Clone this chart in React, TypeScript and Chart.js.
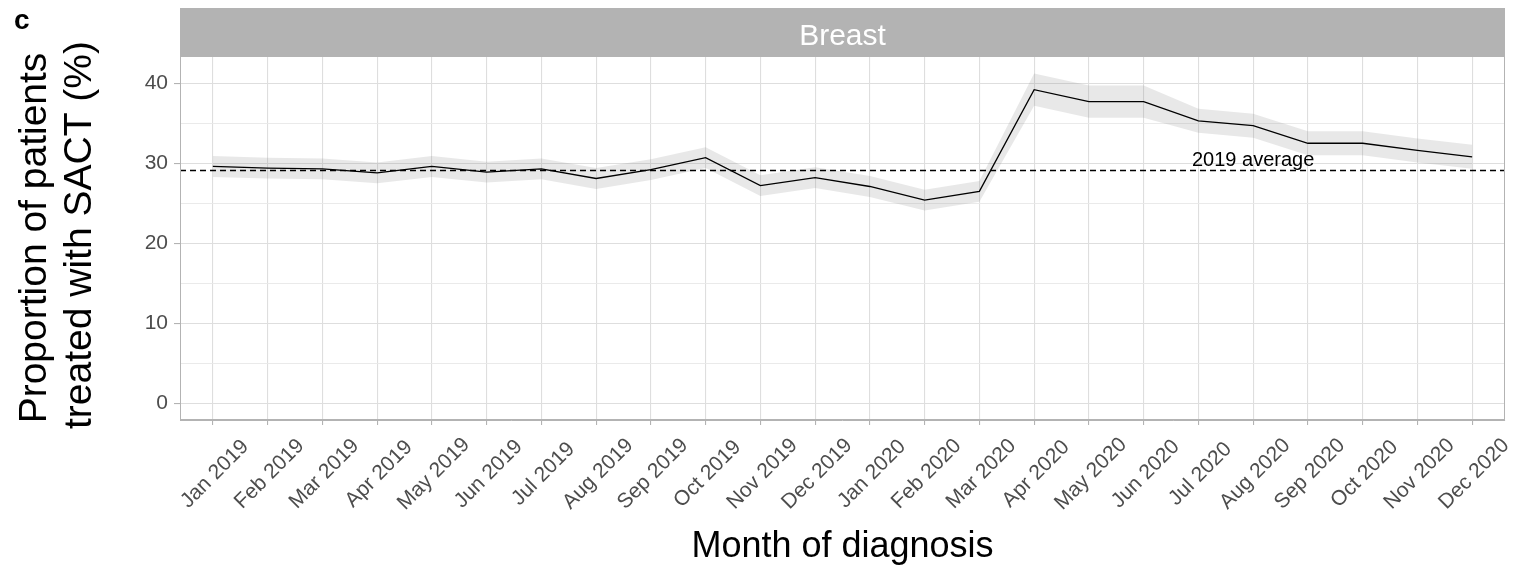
import { useEffect, useRef } from "react";
import { Chart, registerables } from "chart.js";

Chart.register(...registerables);

const months = [
  "Jan 2019", "Feb 2019", "Mar 2019", "Apr 2019", "May 2019", "Jun 2019",
  "Jul 2019", "Aug 2019", "Sep 2019", "Oct 2019", "Nov 2019", "Dec 2019",
  "Jan 2020", "Feb 2020", "Mar 2020", "Apr 2020", "May 2020", "Jun 2020",
  "Jul 2020", "Aug 2020", "Sep 2020", "Oct 2020", "Nov 2020", "Dec 2020",
];
const proportion = [
  29.6, 29.4, 29.3, 28.8, 29.6, 28.9, 29.3, 28.1, 29.2, 30.7, 27.2, 28.2,
  27.1, 25.4, 26.5, 39.2, 37.7, 37.7, 35.3, 34.7, 32.5, 32.5, 31.6, 30.8,
];
const upperCI = [
  30.9, 30.7, 30.6, 30.1, 30.9, 30.2, 30.6, 29.4, 30.5, 32.0, 28.5, 29.5,
  28.4, 26.7, 27.8, 41.2, 39.7, 39.7, 36.8, 36.2, 34.0, 34.0, 33.1, 32.3,
];
const lowerCI = [
  28.3, 28.1, 28.0, 27.5, 28.3, 27.6, 28.0, 26.8, 27.9, 29.4, 25.9, 26.9,
  25.8, 24.1, 25.2, 37.2, 35.7, 35.7, 33.8, 33.2, 31.0, 31.0, 30.1, 29.3,
];
const average2019 = 29.1;
const avgLabel = "2019 average";
const avgLabelMonth = "Aug 2020";
const yTicks = [0, 5, 10, 15, 20, 25, 30, 35, 40];
const panelTitle = "Breast";
const panelTag = "c";
const xTitle = "Month of diagnosis";
const yTitleLines = ["Proportion of patients", "treated with SACT (%)"];

const FONT = "'Liberation Sans', Arial, sans-serif";
const W = 1515;
const H = 568;

export default function App() {
  const ref = useRef<HTMLCanvasElement | null>(null);

  useEffect(() => {
    const canvas = ref.current;
    if (!canvas) return;
    const xMin = -0.6;
    const xMax = months.length - 1 + 0.6;
    const pts = (arr: number[]) => arr.map((v, i) => ({ x: i, y: v }));

    const overlay = {
      id: "overlay",
      afterDraw(chart: any) {
        const { ctx, chartArea } = chart;
        const xs = chart.scales.x;
        const ys = chart.scales.y;
        ctx.save();
        // panel border
        ctx.strokeStyle = "#b3b3b3";
        ctx.lineWidth = 1;
        ctx.strokeRect(chartArea.left + 0.5, chartArea.top + 0.5, chartArea.right - chartArea.left - 1, chartArea.bottom - chartArea.top - 1);
        // strip
        ctx.fillStyle = "#b3b3b3";
        ctx.fillRect(chartArea.left, 8, chartArea.right - chartArea.left, chartArea.top - 8);
        ctx.fillStyle = "#ffffff";
        ctx.font = `30px ${FONT}`;
        ctx.textAlign = "center";
        ctx.textBaseline = "alphabetic";
        ctx.fillText(panelTitle, (chartArea.left + chartArea.right) / 2, 44.5);
        // tag
        ctx.fillStyle = "#000000";
        ctx.font = `bold 28px ${FONT}`;
        ctx.textAlign = "left";
        ctx.textBaseline = "alphabetic";
        ctx.fillText(panelTag, 14, 29);
        // avg label
        ctx.font = `20px ${FONT}`;
        ctx.textAlign = "center";
        ctx.fillText(avgLabel, xs.getPixelForValue(months.indexOf(avgLabelMonth)), ys.getPixelForValue(average2019) - 4);
        // x tick labels
        ctx.fillStyle = "#4d4d4d";
        ctx.font = `21px ${FONT}`;
        ctx.textAlign = "center";
        ctx.textBaseline = "middle";
        months.forEach((m, i) => {
          const px = xs.getPixelForValue(i) + 2;
          ctx.save();
          ctx.translate(px, 474);
          ctx.rotate(-Math.PI / 4);
          ctx.fillText(m, 0, 0);
          ctx.restore();
        });
        // x title
        ctx.fillStyle = "#000000";
        ctx.font = `36px ${FONT}`;
        ctx.textAlign = "center";
        ctx.textBaseline = "alphabetic";
        ctx.fillText(xTitle, (chartArea.left + chartArea.right) / 2, 557);
        // y title
        ctx.font = `39px ${FONT}`;
        const lineX = [46, 91];
        const lineY = [238, 235];
        yTitleLines.forEach((t, k) => {
          ctx.save();
          ctx.translate(lineX[k], lineY[k]);
          ctx.rotate(-Math.PI / 2);
          ctx.fillText(t, 0, 0);
          ctx.restore();
        });
        ctx.restore();
      },
    };

    const chart = new Chart(canvas, {
      type: "line",
      data: {
        datasets: [
          {
            data: pts(proportion),
            borderColor: "#000000",
            borderWidth: 1.3,
            pointRadius: 0,
            fill: false,
            order: 0,
          },
          {
            data: [{ x: xMin, y: average2019 }, { x: xMax, y: average2019 }],
            borderColor: "#000000",
            borderWidth: 1.3,
            borderDash: [6, 4],
            pointRadius: 0,
            fill: false,
            order: 1,
          },
          {
            data: pts(lowerCI),
            borderWidth: 0,
            borderColor: "rgba(0,0,0,0)",
            pointRadius: 0,
            fill: false,
            order: 3,
          },
          {
            data: pts(upperCI),
            borderWidth: 0,
            borderColor: "rgba(0,0,0,0)",
            backgroundColor: "rgba(128,128,128,0.18)",
            pointRadius: 0,
            fill: "-1",
            order: 2,
          },
        ],
      },
      options: {
        responsive: false,
        animation: false,
        devicePixelRatio: 1,
        layout: { padding: { left: 0, top: 56, right: 10, bottom: 0 } },
        plugins: { legend: { display: false }, tooltip: { enabled: false } },
        elements: { line: { tension: 0 } },
        scales: {
          x: {
            type: "linear",
            min: xMin,
            max: xMax,
            afterBuildTicks: (s: any) => {
              s.ticks = months.map((_, i) => ({ value: i }));
            },
            afterFit: (s: any) => {
              s.height = H - 420;
            },
            ticks: { display: false },
            grid: {
              color: "#dedede",
              lineWidth: 1.1,
              tickColor: "#b3b3b3",
              tickLength: 5,
            },
            border: { display: true, color: "#b3b3b3", width: 1 },
          },
          y: {
            type: "linear",
            min: -2.07,
            max: 43.4,
            afterBuildTicks: (s: any) => {
              s.ticks = yTicks.map((v) => ({ value: v }));
            },
            afterFit: (s: any) => {
              s.width = 180;
            },
            ticks: {
              color: "#4d4d4d",
              font: { family: FONT, size: 21 },
              padding: 6,
              callback: (v: any) => (Number(v) % 10 === 0 ? String(v) : ""),
            },
            grid: {
              color: (c: any) => (c.tick && c.tick.value % 10 === 0 ? "#dedede" : "#e8e8e8"),
              lineWidth: (c: any) => (c.tick && c.tick.value % 10 === 0 ? 1.1 : 0.9),
              tickColor: (c: any) => (c.tick && c.tick.value % 10 === 0 ? "#b3b3b3" : "rgba(0,0,0,0)"),
              tickLength: 6,
            },
            border: { display: true, color: "#b3b3b3", width: 1 },
          },
        },
      },
      plugins: [overlay],
    } as any);

    return () => chart.destroy();
  }, []);

  return (
    <div style={{ position: "fixed", left: 0, top: 0, width: W, height: H, background: "#ffffff" }}>
      <canvas ref={ref} width={W} height={H} style={{ width: W, height: H, display: "block" }} />
    </div>
  );
}
